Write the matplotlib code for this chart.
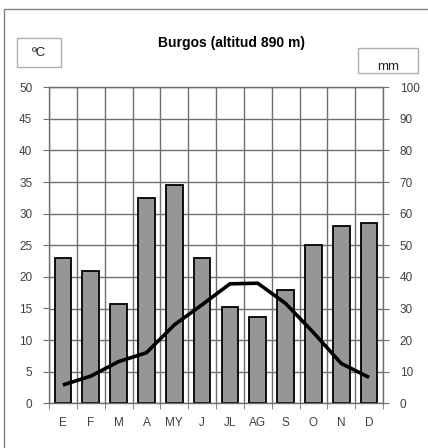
import matplotlib
matplotlib.use("Agg")
import matplotlib.pyplot as plt
from matplotlib.patches import Rectangle
import numpy as np

plt.rcParams['font.family'] = ['Liberation Sans', 'DejaVu Sans']

months = ["E", "F", "M", "A", "MY", "J", "JL", "AG", "S", "O", "N", "D"]
precip_mm = [46, 42, 31.4, 65, 69, 46, 30.4, 27.4, 36, 50, 56, 57]
temp_c = [2.9, 4.3, 6.6, 8.0, 12.4, 15.6, 18.9, 19.0, 15.8, 11.2, 6.3, 4.1]
title = "Burgos (altitud 890 m)"

W, H = 428, 448
fig = plt.figure(figsize=(W / 100, H / 100), dpi=100)
fig.patch.set_facecolor("white")

# main axes: bars + grid, mm scale on the right
ax = fig.add_axes([49 / W, 1 - 403.3 / H, (383 - 49) / W, (403.3 - 87.3) / H])
x = np.arange(len(months))
ax.bar(x, precip_mm, width=0.6, color="#969696", edgecolor="black",
       linewidth=1.3, zorder=2)
ax.set_xlim(-0.5, len(months) - 0.5)
ax.set_ylim(0, 100)
ax.set_yticks(range(0, 101, 10))
ax.set_xticks(x)
ax.set_xticklabels(months)
ax.set_xticks(np.arange(-0.5, len(months), 1), minor=True)
ax.set_axisbelow(True)
ax.grid(axis="y", which="major", color="#707070", linewidth=1)
ax.grid(axis="x", which="minor", color="#707070", linewidth=1)
ax.tick_params(axis="x", which="major", length=0, pad=10,
               labelsize=8.5, labelcolor="#404040")
ax.tick_params(axis="x", which="minor", length=4, color="#707070", direction="out")
for s in ax.spines.values():
    s.set_color("#707070")
    s.set_linewidth(1)

# twin axes: temperature line, scale on the left
ax2 = ax.twinx()
ax2.yaxis.tick_left()
ax.yaxis.tick_right()
ax.tick_params(axis="y", length=4, color="#707070", pad=8,
               labelsize=8.5, labelcolor="#404040")
ax2.set_ylim(0, 50)
ax2.set_yticks(range(0, 51, 5))
ax2.plot(x, temp_c, color="black", linewidth=2.6, solid_joinstyle="round",
         solid_capstyle="butt", zorder=3)
ax2.tick_params(axis="y", length=4, color="#707070", pad=8,
                labelsize=8.5, labelcolor="#404040")
for s in ax2.spines.values():
    s.set_visible(False)

# outer frame (only top and left visible in the crop)
fig.add_artist(Rectangle((4 / W, -0.1), 1.2, 1 - 9 / H + 0.1,
                         transform=fig.transFigure, fill=False,
                         edgecolor="#808080", linewidth=1))

# unit boxes
fig.add_artist(Rectangle((17 / W, 1 - 67 / H), 44 / W, 29 / H,
                         transform=fig.transFigure, fill=False,
                         edgecolor="#b0b0b0", linewidth=1))
fig.text(39 / W, 1 - 53 / H, "ºC", ha="center", va="center", fontsize=9.5,
         color="#202020")
fig.add_artist(Rectangle((358 / W, 1 - 73 / H), 60 / W, 25 / H,
                         transform=fig.transFigure, fill=False,
                         edgecolor="#b0b0b0", linewidth=1))
fig.text(388 / W, 1 - 67 / H, "mm", ha="center", va="center", fontsize=9.5,
         color="#202020")

fig.text(231 / W, 1 - 43 / H, title, ha="center", va="center",
         fontsize=10, fontweight="bold", color="black")

fig.savefig("out.png", dpi=100)
